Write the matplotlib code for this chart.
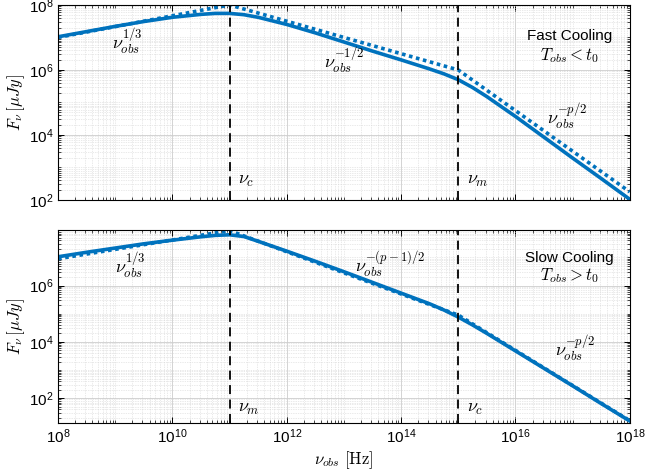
import numpy as np
import matplotlib
matplotlib.use("Agg")
import matplotlib.pyplot as plt
from matplotlib.ticker import LogLocator, NullFormatter

plt.rcParams['font.family'] = 'Liberation Sans'
plt.rcParams['mathtext.fontset'] = 'cm'

# break frequencies (Hz)
nu_breaks = [1e11, 1e15]

# smooth spectra (log10 nu, log10 F)
log_nu = [8.0, 8.5, 9.0, 9.5, 10.0, 10.5, 10.75, 11.0, 11.25, 11.5, 12.0, 12.5,
          13.0, 13.5, 14.0, 14.5, 14.75, 15.0, 15.25, 15.5, 16.0, 16.5, 17.0,
          17.5, 18.0]
fast_smooth = [7.02, 7.18, 7.34, 7.49, 7.62, 7.71, 7.74, 7.74, 7.70, 7.62, 7.40, 7.14,
               6.86, 6.58, 6.31, 6.03, 5.88, 5.70, 5.46, 5.18, 4.57, 3.93, 3.29,
               2.66, 2.02]
slow_smooth = [7.02, 7.18, 7.33, 7.48, 7.61, 7.73, 7.78, 7.80, 7.74, 7.57, 7.22, 6.86,
               6.49, 6.11, 5.73, 5.35, 5.13, 4.88, 4.60, 4.30, 3.68, 3.06, 2.44,
               1.81, 1.19]

# asymptotic broken power laws (log10 nu, log10 F)
log_nu_bpl = [8.0, 11.0, 15.0, 18.0]
fast_bpl = [7.0, 8.0, 6.0, 2.25]
slow_bpl = [6.95, 7.95, 4.95, 1.20]

blue = '#0072BD'
nu = 10 ** np.array(log_nu)
nu_b = 10 ** np.array(log_nu_bpl)

fig = plt.figure(figsize=(6.7, 4.7), dpi=100)
ax1 = fig.add_axes([0.0866, 0.5745, 0.8534, 0.415])
ax2 = fig.add_axes([0.0866, 0.100, 0.8534, 0.4106])


def style_axis(ax, ylim, yticks):
    ax.set_xscale('log')
    ax.set_yscale('log')
    ax.set_xlim(1e8, 1e18)
    ax.set_ylim(*ylim)
    ax.set_xticks([1e8, 1e10, 1e12, 1e14, 1e16, 1e18])
    ax.set_yticks(yticks)
    ax.xaxis.set_minor_locator(LogLocator(base=10, subs=np.arange(1, 10), numticks=100))
    ax.yaxis.set_minor_locator(LogLocator(base=10, subs=np.arange(1, 10), numticks=100))
    ax.xaxis.set_minor_formatter(NullFormatter())
    ax.yaxis.set_minor_formatter(NullFormatter())
    ax.grid(True, which='major', color='#cccccc', lw=0.6)
    ax.grid(True, which='minor', color='#d4d4d4', lw=0.5, ls=(0, (1, 1.5)))
    ax.set_axisbelow(True)
    ax.tick_params(which='both', direction='in', top=True, right=True, labelsize=11)
    ax.tick_params(which='major', length=4, width=0.7)
    ax.tick_params(which='minor', length=2, width=0.5)
    for s in ax.spines.values():
        s.set_linewidth(0.8)
    ax.set_ylabel(r'$F_\nu\,[\mu Jy]$', fontsize=12, labelpad=1)
    for b in nu_breaks:
        ax.axvline(b, color='k', ls=(0, (5, 3)), lw=1.3)


# Fast cooling
ax1.plot(nu, 10 ** np.array(fast_smooth), color=blue, lw=2.6)
ax1.plot(nu_b, 10 ** np.array(fast_bpl), color=blue, lw=2.6, ls=(0, (1, 1)))
style_axis(ax1, (1e2, 1e8), [1e2, 1e4, 1e6, 1e8])
ax1.set_xticklabels([])
ax1.text(10 ** 8.95, 10 ** 6.65, r'$\nu_{obs}^{1/3}$', fontsize=13)
ax1.text(10 ** 12.65, 10 ** 6.05, r'$\nu_{obs}^{-1/2}$', fontsize=13)
ax1.text(10 ** 16.55, 10 ** 4.35, r'$\nu_{obs}^{-p/2}$', fontsize=13)
ax1.text(10 ** 11.15, 10 ** 2.5, r'$\nu_c$', fontsize=13)
ax1.text(10 ** 15.15, 10 ** 2.5, r'$\nu_m$', fontsize=13)
ax1.text(10 ** 16.95, 10 ** 6.92, 'Fast Cooling', fontsize=11, ha='center')
ax1.text(10 ** 16.95, 10 ** 6.3, r'$T_{obs} < t_0$', fontsize=12, ha='center')

# Slow cooling
ax2.plot(nu, 10 ** np.array(slow_smooth), color=blue, lw=2.6)
ax2.plot(nu_b, 10 ** np.array(slow_bpl), color=blue, lw=2.6, ls=(0, (1, 1)))
style_axis(ax2, (10 ** 1.12, 10 ** 7.97), [1e2, 1e4, 1e6])
ax2.set_xlabel(r'$\nu_{obs}\ [\mathrm{Hz}]$', fontsize=12, labelpad=2)
ax2.text(10 ** 9.0, 10 ** 6.45, r'$\nu_{obs}^{1/3}$', fontsize=13)
ax2.text(10 ** 13.2, 10 ** 6.45, r'$\nu_{obs}^{-(p-1)/2}$', fontsize=13)
ax2.text(10 ** 16.7, 10 ** 3.5, r'$\nu_{obs}^{-p/2}$', fontsize=13)
ax2.text(10 ** 11.15, 10 ** 1.5, r'$\nu_m$', fontsize=13)
ax2.text(10 ** 15.15, 10 ** 1.5, r'$\nu_c$', fontsize=13)
ax2.text(10 ** 16.95, 10 ** 6.85, 'Slow Cooling', fontsize=11, ha='center')
ax2.text(10 ** 16.95, 10 ** 6.2, r'$T_{obs} > t_0$', fontsize=12, ha='center')

fig.align_ylabels([ax1, ax2])
fig.savefig('out.png', dpi=100, facecolor='white')
